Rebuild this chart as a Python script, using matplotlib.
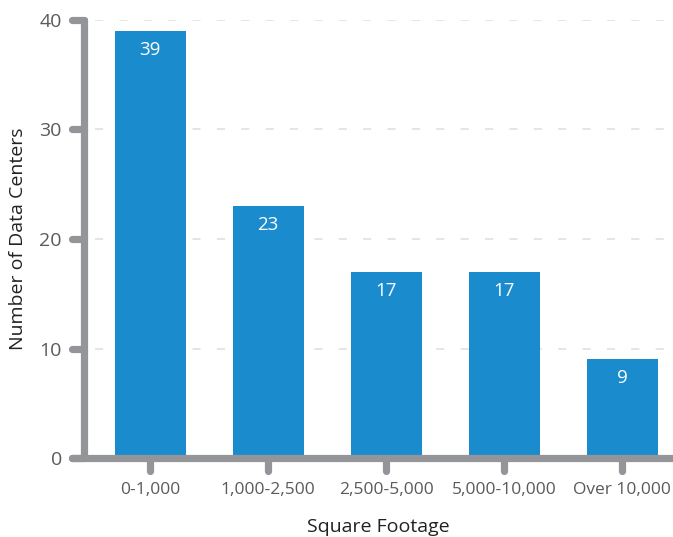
import matplotlib
matplotlib.use("Agg")
import matplotlib.pyplot as plt

# Data
categories = ["0-1,000", "1,000-2,500", "2,500-5,000", "5,000-10,000", "Over 10,000"]
counts = [39, 23, 17, 17, 9]
y_ticks = [0, 10, 20, 30, 40]

BAR_COLOR = "#1a8ccd"
AXIS_COLOR = "#939598"
GRID_COLOR = "#e3e3e3"
TEXT_COLOR = "#5a5a5a"

plt.rcParams["font.family"] = ["Open Sans", "DejaVu Sans"]

fig = plt.figure(figsize=(6.73, 5.37), dpi=100, facecolor="white")
ax = fig.add_axes([84 / 673, 79 / 537, 589 / 673, 438 / 537])

x = list(range(len(categories)))
ax.bar(x, counts, width=0.6, color=BAR_COLOR, zorder=2)
for xi, c in zip(x, counts):
    ax.annotate(str(c), (xi, c), xytext=(0, -7), textcoords="offset points",
                ha="center", va="top", color="white", fontsize=13.5, zorder=3)

ax.set_xlim(-0.56, 4.43)
ax.set_ylim(0, 40)

# dashed grid
for yv in y_ticks[1:]:
    ax.plot([11 / 589, 1], [yv, yv], transform=ax.get_yaxis_transform(),
            color=GRID_COLOR, lw=1.3, dashes=(4.5, 9), zorder=1)

for s in ax.spines.values():
    s.set_visible(False)

# hand-drawn thick axes with round caps
lw = 5.2
ax.plot([0, 0], [0, 1], transform=ax.transAxes, color=AXIS_COLOR, lw=lw,
        solid_capstyle="round", clip_on=False, zorder=4)
ax.plot([-12 / 589, 1.01], [0, 0], transform=ax.transAxes, color=AXIS_COLOR,
        lw=lw, solid_capstyle="round", clip_on=False, zorder=4)
ytr = ax.get_yaxis_transform()
for yv in y_ticks:
    ax.plot([-12 / 589, 0], [yv, yv], transform=ytr, color=AXIS_COLOR, lw=lw,
            solid_capstyle="round", clip_on=False, zorder=4)
xtr = ax.get_xaxis_transform()
for xi in x:
    ax.plot([xi, xi], [0, -13 / 438], transform=xtr, color=AXIS_COLOR, lw=lw,
            solid_capstyle="round", clip_on=False, zorder=4)

ax.set_xticks(x)
ax.set_xticklabels(categories)
ax.set_yticks(y_ticks)
ax.tick_params(axis="x", length=0, pad=17, labelsize=12.5, labelcolor=TEXT_COLOR)
ax.tick_params(axis="y", length=0, pad=16, labelsize=14, labelcolor=TEXT_COLOR)

ax.set_xlabel("Square Footage", fontsize=14, color="#222222", labelpad=15)
ax.set_ylabel("Number of Data Centers", fontsize=14, color="#222222", labelpad=9)

fig.savefig("out.png", dpi=100, facecolor="white")
